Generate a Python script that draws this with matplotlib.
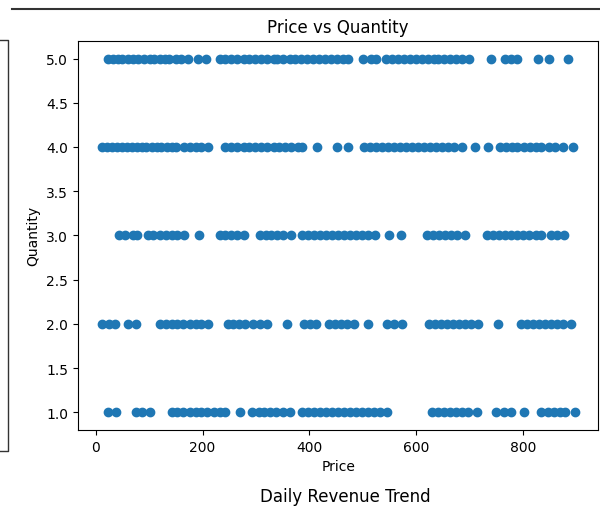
import matplotlib
matplotlib.use('Agg')
import matplotlib.pyplot as plt
from matplotlib.lines import Line2D

# prices, one list per quantity level
price_q5 = [22, 32, 41, 50, 60, 69, 80, 90, 101, 110, 120, 129, 138, 150, 159, 172, 191, 206,
            232, 243, 254, 265, 277, 288, 299, 310, 321, 333, 340,
            351, 363, 374, 385, 396, 407, 419, 430, 441, 452, 464, 473,
            501, 516, 525, 544, 555, 566, 578, 589, 600, 611, 622, 634,
            641, 652, 663, 675, 686, 699, 740, 766, 778, 790, 828, 850, 884]
price_q4 = [11, 21, 30, 39, 49, 58, 67, 77, 86, 95, 105, 114, 123, 133, 142, 151,
            166, 176, 187, 198, 211,
            243, 254, 265, 277, 288, 299, 310, 321, 333, 344, 355, 366, 378, 387,
            415, 452, 473,
            503, 514, 525, 536, 548, 559, 570, 581, 592, 604, 615, 626, 637, 648, 660, 671, 686,
            710, 734, 757, 768, 779, 790, 802, 813, 824, 835, 849, 860, 875, 895]
price_q3 = [43, 54, 69, 78, 97, 108, 120, 131, 142, 153, 166, 193,
            232, 243, 254, 265, 277, 307, 318, 329, 340, 351, 366,
            387, 398, 409, 421, 432, 443, 454, 465, 477, 488, 499, 510, 523, 549, 572,
            620, 632, 643, 654, 665, 677, 692,
            733, 744, 755, 766, 778, 789, 800, 811, 824, 835, 852, 865, 878]
price_q2 = [11, 24, 36, 60, 75, 120, 131, 142, 153, 164, 176, 187, 198, 211,
            247, 258, 269, 280, 295, 307, 321, 359, 391, 402, 413,
            437, 449, 460, 471, 484, 510, 546, 559, 574,
            624, 635, 647, 658, 669, 680, 692, 703, 716, 753,
            796, 807, 819, 830, 841, 852, 864, 875, 890]
price_q1 = [22, 37, 75, 86, 101, 142, 153, 164, 176, 187, 198, 209, 221, 232, 243, 271,
            293, 305, 316, 327, 338, 350, 363,
            387, 398, 409, 421, 432, 443, 454, 465, 477, 488, 499, 510, 521, 533, 546,
            630, 641, 652, 663, 675, 686, 697, 714, 749, 764, 778, 802,
            835, 847, 858, 869, 880, 897]

quantities = [5, 4, 3, 2, 1]
price_lists = [price_q5, price_q4, price_q3, price_q2, price_q1]

prices = []
qty = []
for q, pl in zip(quantities, price_lists):
    prices.extend(pl)
    qty.extend([q] * len(pl))

fig = plt.figure(figsize=(6, 5.1), dpi=100)
ax = fig.add_axes([0.13, 0.155, 0.867, 0.763])
ax.scatter(prices, qty)
ax.set_title('Price vs Quantity')
ax.set_xlabel('Price')
ax.set_ylabel('Quantity')
ax.set_yticks([1.0, 1.5, 2.0, 2.5, 3.0, 3.5, 4.0, 4.5, 5.0])

# bits of the neighbouring charts visible at the screenshot edges
fig.add_artist(Line2D([0.02, 1.0], [0.98, 0.98], color='#333333', lw=1.5))
fig.add_artist(Line2D([0.0, 0.014, 0.014, 0.0], [0.92, 0.92, 0.114, 0.114],
                      color='#333333', lw=1.0))
fig.text(0.575, 0.008, 'Daily Revenue Trend', ha='center', va='bottom', fontsize=12)

fig.savefig('out.png', dpi=100)
